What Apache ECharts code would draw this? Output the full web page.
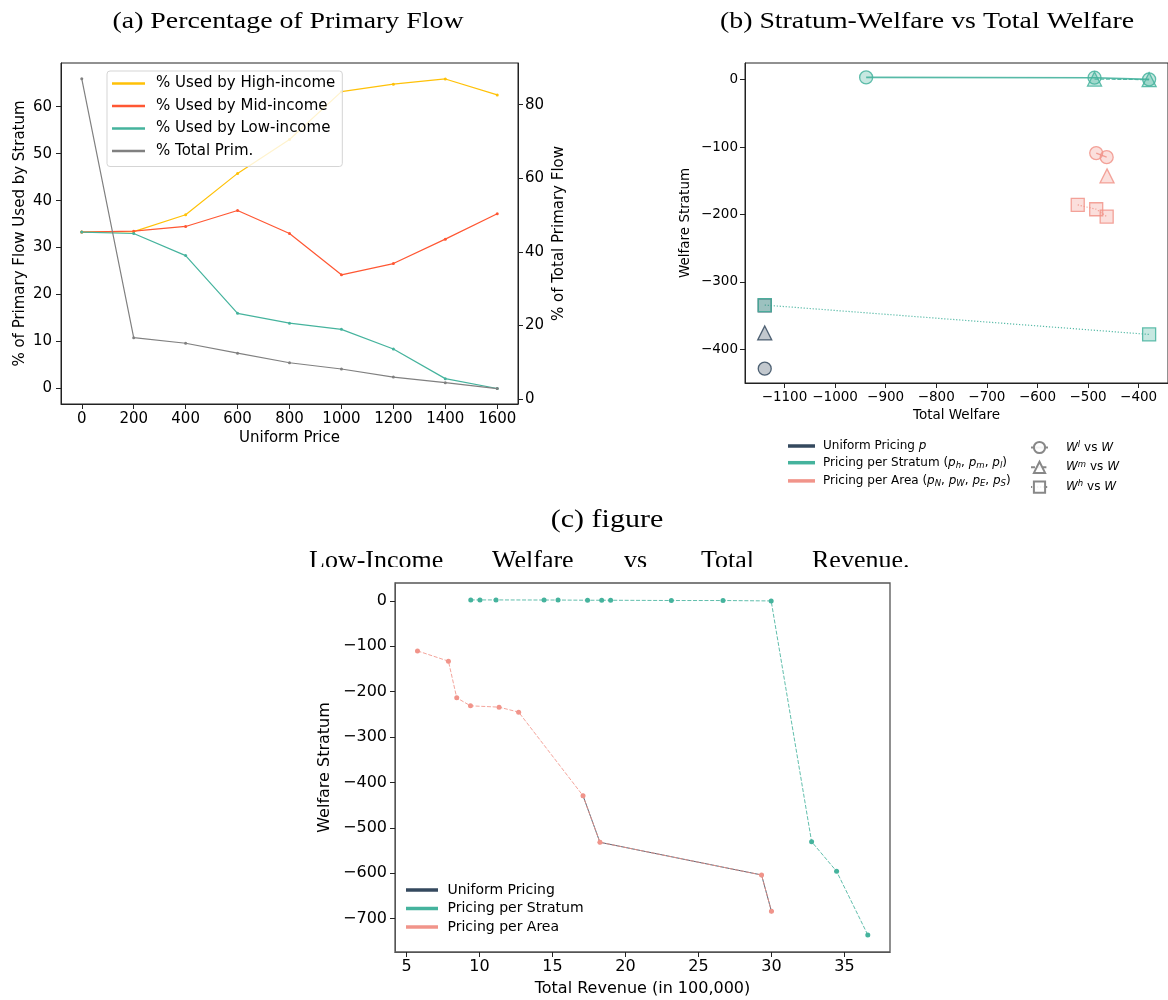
<!DOCTYPE html>
<html><head><meta charset="utf-8">
<script src="https://cdn.jsdelivr.net/npm/echarts@6/dist/echarts.min.js"></script>
<style>html,body{margin:0;padding:0;background:#fff}#c{width:1168px;height:1000px}</style>
</head><body><div id="c"></div>
<script>
// ---------- Panel (a) data ----------
const pricesA = [0, 200, 400, 600, 800, 1000, 1200, 1400, 1600];
const highIncome = [33.3, 33.4, 37.0, 45.8, 53.0, 63.2, 64.8, 65.9, 62.5];
const midIncome = [33.3, 33.5, 34.5, 37.9, 33.0, 24.2, 26.6, 31.8, 37.2];
const lowIncome = [33.3, 33.0, 28.3, 16.0, 13.9, 12.6, 8.4, 2.1, 0.0];
const totalPrim = [87.0, 16.7, 15.2, 12.5, 9.9, 8.2, 6.0, 4.5, 2.9];
const ticksAx = [0, 200, 400, 600, 800, 1000, 1200, 1400, 1600];
const ticksAyL = [0, 10, 20, 30, 40, 50, 60];
const ticksAyR = [0, 20, 40, 60, 80];

// ---------- Panel (b) data ----------
const uniTW = [-1139], uniWl = [-429], uniWm = [-376], uniWh = [-335];
const strWlTW = [-938.6, -487.2, -379.3], strWl = [3.4, 3.0, 0.5];
const strWmTW = [-487.2, -379.3], strWm = [1.0, 0.0];
const strWhTW = [-1139, -379.3], strWh = [-334.6, -378.2];
const areaWlTW = [-483.9, -463.2], areaWl = [-109, -115];
const areaWmTW = [-462.5], areaWm = [-142.8];
const areaWhTW = [-520.4, -483.9, -463.2], areaWh = [-185.9, -192.3, -203.2];
const ticksBx = [-1100, -1000, -900, -800, -700, -600, -500, -400];
const ticksBy = [-400, -300, -200, -100, 0];

// ---------- Panel (c) data ----------
const strRev = [9.40, 10.03, 11.13, 14.42, 15.38, 17.40, 18.37, 18.98, 23.14, 26.68, 29.98, 32.75, 34.46, 36.60];
const strLow = [2.2, 2.2, 2.2, 2.0, 2.0, 1.5, 1.5, 1.5, 0.9, 0.9, 0.0, -530.5, -595.7, -735.9];
const areaRev = [5.75, 7.87, 8.44, 9.38, 11.34, 12.68, 17.09, 18.25, 29.32, 30.0];
const areaLow = [-110.1, -132.7, -213.5, -231.1, -234.0, -245.0, -429.2, -531.8, -603.8, -683.8];
const uniRev = [17.09, 18.25, 29.32, 30.0];
const uniLow = [-429.2, -531.8, -603.8, -683.8];
const ticksCx = [5, 10, 15, 20, 25, 30, 35];
const ticksCy = [-700, -600, -500, -400, -300, -200, -100, 0];

const SANS = 'DejaVu Sans';
const SERIF = 'Liberation Serif';
const C_UNI = '#34495E', C_STR = '#45B39D', C_AREA = '#F1948A';
const zip = (xs, ys) => xs.map((x, i) => [x, ys[i]]);
const minus = v => String(v).replace('-', '\u2212');
const rgba = (hex, a) => {
  const n = parseInt(hex.slice(1), 16);
  return `rgba(${(n >> 16) & 255},${(n >> 8) & 255},${n & 255},${a})`;
};

function axis(o) {
  return {
    type: 'value', gridIndex: o.grid, min: o.min, max: o.max, position: o.pos,
    splitLine: { show: false },
    axisLine: { show: true, onZero: false, lineStyle: { color: o.frame || '#222', width: 1 } },
    axisTick: { show: true, inside: false, length: 5, customValues: o.ticks, lineStyle: { color: '#222' } },
    axisLabel: { customValues: o.ticks, formatter: minus, fontFamily: SANS, fontSize: o.fs, color: '#000', margin: o.margin },
    name: o.name, nameLocation: 'middle', nameGap: o.gap, nameRotate: o.rot,
    nameTextStyle: { fontFamily: SANS, fontSize: o.fs, color: '#000' }
  };
}

function lineA(name, xs, ys, color, yi) {
  return {
    type: 'line', name, xAxisIndex: 0, yAxisIndex: yi, data: zip(xs, ys),
    symbol: 'circle', symbolSize: 3, showSymbol: true,
    lineStyle: { color, width: 1.2 }, itemStyle: { color }, z: 3
  };
}
function markB(name, xs, ys, color, symbol, ltype, lw) {
  return {
    type: 'line', name, xAxisIndex: 1, yAxisIndex: 2, data: zip(xs, ys),
    symbol, symbolSize: symbol === 'triangle' ? 14 : 13,
    lineStyle: { color: rgba(color, 0.9), width: lw || 1, type: ltype },
    itemStyle: { color: rgba(color, 0.3), borderColor: rgba(color, 0.85), borderWidth: 1.3 }
  };
}
function lineC(name, xs, ys, color, ltype, size) {
  return {
    type: 'line', name, xAxisIndex: 2, yAxisIndex: 3, data: zip(xs, ys),
    symbol: 'circle', symbolSize: size,
    lineStyle: { color: rgba(color, 0.85), width: 1, type: ltype },
    itemStyle: { color }
  };
}
const DASH = [4, 1.7], DOT = [1.2, 1.8];

const legBRich = {
  sp: { width: 3 }, sp2: { width: 13 },
  t: { fontFamily: SANS, fontSize: 12, color: '#000', lineHeight: 15, verticalAlign: 'middle' },
  i: { fontFamily: SANS, fontSize: 12, fontStyle: 'italic', color: '#000', lineHeight: 15, verticalAlign: 'middle' },
  sb: { fontFamily: SANS, fontSize: 8.5, fontStyle: 'italic', color: '#000', lineHeight: 10, verticalAlign: 'bottom' },
  sp_: { fontFamily: SANS, fontSize: 8.5, fontStyle: 'italic', color: '#000', lineHeight: 10, verticalAlign: 'top' }
};
const L1 = ['Uniform Pricing p', 'Pricing per Stratum (ph, pm, pl)', 'Pricing per Area (pN, pW, pE, pS)'];
const L1fmt = {
  [L1[0]]: '{sp|}{t|Uniform Pricing }{i|p}',
  [L1[1]]: '{sp|}{t|Pricing per Stratum (}{i|p}{sb|h}{t|, }{i|p}{sb|m}{t|, }{i|p}{sb|l}{t|)}',
  [L1[2]]: '{sp|}{t|Pricing per Area (}{i|p}{sb|N}{t|, }{i|p}{sb|W}{t|, }{i|p}{sb|E}{t|, }{i|p}{sb|S}{t|)}'
};
const L2 = ['Wl vs W', 'Wm vs W', 'Wh vs W'];
const L2fmt = {
  [L2[0]]: '{sp2|}{i|W}{sp_|l}{t| vs }{i|W}',
  [L2[1]]: '{sp2|}{i|W}{sp_|m}{t| vs }{i|W}',
  [L2[2]]: '{sp2|}{i|W}{sp_|h}{t| vs }{i|W}'
};
function dummy(name, color, symbol, ltype) {
  return {
    type: 'line', name, xAxisIndex: 1, yAxisIndex: 2, data: [],
    symbol: symbol || 'none', symbolSize: 11,
    lineStyle: { color, width: symbol ? 1 : 3.5, type: ltype || 'solid' },
    itemStyle: symbol ? { color: 'rgba(255,255,255,0.9)', borderColor: color, borderWidth: 1 } : { color }
  };
}

const words = [
  ['Low-Income', 309], ['Welfare', 492], ['vs', 624], ['Total', 701], ['Revenue.', 812]
];

const option = {
  animation: false,
  backgroundColor: '#fff',
  grid: [
    { left: 61, top: 63, width: 457, height: 341, show: true, borderColor: '#222', borderWidth: 1, backgroundColor: 'transparent' },
    { left: 745, top: 63, width: 428, height: 320, show: true, borderColor: '#222', borderWidth: 1, backgroundColor: 'transparent' },
    { left: 395, top: 583, width: 495, height: 369, show: true, borderColor: '#555', borderWidth: 1.3, backgroundColor: 'transparent' }
  ],
  xAxis: [
    axis({ grid: 0, min: -80, max: 1680, ticks: ticksAx, fs: 15, margin: 8, name: 'Uniform Price', gap: 27 }),
    axis({ grid: 1, min: -1178, max: -342, ticks: ticksBx, fs: 13.5, margin: 7, name: 'Total Welfare', gap: 25 }),
    axis({ grid: 2, min: 4.21, max: 38.12, ticks: ticksCx, fs: 16, margin: 7, name: 'Total Revenue (in 100,000)', gap: 29, frame: '#555' })
  ],
  yAxis: [
    axis({ grid: 0, min: -3.3, max: 69.3, ticks: ticksAyL, fs: 15, margin: 9, name: '% of Primary Flow Used by Stratum', gap: 33, rot: 90, pos: 'left' }),
    axis({ grid: 0, min: -1.3, max: 91.3, ticks: ticksAyR, fs: 15, margin: 7, name: '% of Total Primary Flow', gap: 34, rot: 90, pos: 'right' }),
    axis({ grid: 1, min: -450.3, max: 24.8, ticks: ticksBy, fs: 13.5, margin: 7, name: 'Welfare Stratum', gap: 53, rot: 90, pos: 'left' }),
    axis({ grid: 2, min: -773.5, max: 39.5, ticks: ticksCy, fs: 16, margin: 8, name: 'Welfare Stratum', gap: 62, rot: 90, pos: 'left', frame: '#555' })
  ],
  legend: [
    {
      data: ['% Used by High-income', '% Used by Mid-income', '% Used by Low-income', '% Total Prim.'],
      orient: 'vertical', left: 107, top: 71, padding: [5, 7, 8, 5],
      icon: 'rect', itemWidth: 33, itemHeight: 2.5, itemGap: 7.5,
      backgroundColor: 'rgba(255,255,255,0.8)', borderColor: '#d5d5d5', borderWidth: 1, borderRadius: 3,
      formatter: n => '{sp|}{t|' + n + '}',
      textStyle: { rich: { sp: { width: 6 }, t: { fontFamily: SANS, fontSize: 15, color: '#000', lineHeight: 15 } } },
      z: 10
    },
    {
      data: L1, orient: 'vertical', left: 788, top: 440, padding: 0,
      icon: 'rect', itemWidth: 27, itemHeight: 3.5, itemGap: 4.7,
      formatter: n => L1fmt[n], textStyle: { rich: legBRich }
    },
    {
      data: L2, orient: 'vertical', left: 1030, top: 440, padding: 0,
      itemWidth: 17, itemHeight: 14, itemGap: 5.7,
      formatter: n => L2fmt[n], textStyle: { rich: legBRich }
    },
    {
      data: ['Uniform Pricing', 'Pricing per Stratum', 'Pricing per Area'],
      orient: 'vertical', left: 406, top: 883, padding: 0,
      icon: 'rect', itemWidth: 32, itemHeight: 3.5, itemGap: 4.5,
      formatter: n => '{sp|}{t|' + n + '}',
      textStyle: { rich: { sp: { width: 4.5 }, t: { fontFamily: SANS, fontSize: 14, color: '#000', lineHeight: 16 } } }
    }
  ],
  series: [
    lineA('% Used by High-income', pricesA, highIncome, '#FFC107', 0),
    lineA('% Used by Mid-income', pricesA, midIncome, '#FF5733', 0),
    lineA('% Used by Low-income', pricesA, lowIncome, '#45B39D', 0),
    lineA('% Total Prim.', pricesA, totalPrim, '#808080', 1),

    markB('u_l', uniTW, uniWl, C_UNI, 'circle', 'solid'),
    markB('u_m', uniTW, uniWm, C_UNI, 'triangle', DASH),
    markB('u_h', uniTW, uniWh, C_UNI, 'rect', DOT),
    markB('s_l', strWlTW, strWl, C_STR, 'circle', 'solid', 1.6),
    markB('s_m', strWmTW, strWm, C_STR, 'triangle', DASH, 1.2),
    markB('s_h', strWhTW, strWh, C_STR, 'rect', DOT, 1.2),
    markB('a_l', areaWlTW, areaWl, C_AREA, 'circle', 'solid', 1.2),
    markB('a_m', areaWmTW, areaWm, C_AREA, 'triangle', DASH, 1.2),
    markB('a_h', areaWhTW, areaWh, C_AREA, 'rect', DOT, 1.2),
    dummy(L1[0], C_UNI), dummy(L1[1], C_STR), dummy(L1[2], C_AREA),
    dummy(L2[0], '#888', 'circle', 'solid'),
    dummy(L2[1], '#888', 'triangle', DASH),
    dummy(L2[2], '#888', 'rect', DOT),

    lineC('Uniform Pricing', uniRev, uniLow, C_UNI, 'solid', 4),
    lineC('Pricing per Stratum', strRev, strLow, C_STR, DASH, 5),
    lineC('Pricing per Area', areaRev, areaLow, C_AREA, DASH, 5)
  ],
  graphic: [
    { type: 'text', x: 288, y: 22, scaleX: 1.16, style: { text: '(a) Percentage of Primary Flow', font: '24px "' + SERIF + '"', fill: '#000', align: 'center', verticalAlign: 'middle' } },
    { type: 'text', x: 927, y: 22, scaleX: 1.16, style: { text: '(b) Stratum-Welfare vs Total Welfare', font: '24px "' + SERIF + '"', fill: '#000', align: 'center', verticalAlign: 'middle' } },
    { type: 'text', x: 607, y: 520, scaleX: 1.2, style: { text: '(c) figure', font: '25px "' + SERIF + '"', fill: '#000', align: 'center', verticalAlign: 'middle' } }
  ].concat(words.map(w => ({
    type: 'text', x: w[1], y: 561, style: { text: w[0], font: '26px "' + SERIF + '"', fill: '#000', align: 'left', verticalAlign: 'middle' }
  }))).concat([
    { type: 'rect', shape: { x: 290, y: 567, width: 640, height: 14 }, style: { fill: '#fff' }, z: 100 }
  ])
};

const chart = echarts.init(document.getElementById('c'), null, { renderer: 'canvas' });
chart.setOption(option);
</script></body></html>
